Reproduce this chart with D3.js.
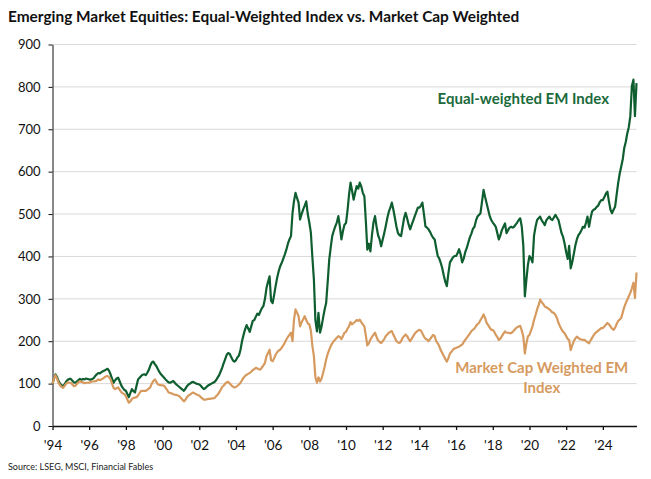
<!DOCTYPE html>
<html>
<head>
<meta charset="utf-8">
<script src="https://cdn.jsdelivr.net/npm/d3@7"></script>
<style>
  body { margin: 0; background: #fff; }
  svg { font-family: Lato, 'Open Sans', sans-serif; }
</style>
</head>
<body>
<script>
//monthly index levels (Jan 1994 = 100)
const startYear = 1994

const equalWeighted = [
  100, 112, 122, 116, 106, 100, 96, 94, 99, 105, 109, 111,   // 1994
  111, 107, 103, 102, 105, 108, 111, 109, 111, 110, 112, 111, // 1995
  110, 109, 111, 113, 118, 122, 125, 124, 127, 129, 131, 133, // 1996
  135, 130, 122, 112, 102, 108, 112, 114, 105, 96, 90, 85,    // 1997
  83, 75, 68, 78, 87, 82, 79, 95, 110, 114, 118, 121,         // 1998
  122, 120, 125, 132, 142, 150, 152, 146, 141, 134, 127, 122, // 1999
  118, 114, 110, 106, 103, 102, 104, 106, 102, 98, 95, 92,    // 2000
  89, 86, 83, 88, 94, 98, 100, 103, 104, 102, 100, 99,        // 2001
  98, 95, 91, 87, 89, 93, 96, 98, 100, 102, 104, 108,         // 2002
  114, 120, 128, 137, 148, 158, 168, 172, 170, 162, 155, 152, // 2003
  155, 162, 166, 180, 200, 215, 228, 238, 230, 222, 235, 248, // 2004
  250, 258, 265, 262, 270, 278, 283, 300, 326, 340, 353, 295, // 2005
  290, 310, 330, 350, 365, 377, 385, 395, 405, 416, 430, 440, // 2006
  448, 503, 530, 550, 538, 527, 487, 500, 511, 520, 530, 500, // 2007
  480, 456, 400, 346, 250, 223, 267, 220, 235, 255, 275, 290, // 2008
  340, 393, 420, 448, 460, 471, 480, 495, 470, 440, 460, 475, // 2009
  479, 510, 545, 574, 555, 534, 550, 566, 560, 574, 565, 550, // 2010
  542, 480, 416, 430, 412, 450, 480, 495, 470, 450, 440, 424, // 2011
  440, 455, 471, 490, 505, 515, 527, 510, 490, 470, 455, 450, // 2012
  448, 470, 490, 503, 490, 475, 464, 475, 485, 495, 505, 515, // 2013
  515, 520, 527, 500, 471, 468, 464, 458, 450, 444, 440, 420, // 2014
  401, 395, 385, 372, 355, 340, 330, 360, 386, 392, 398, 401, // 2015
  401, 408, 417, 405, 386, 395, 410, 420, 433, 445, 454, 465, // 2016
  470, 485, 494, 498, 502, 530, 557, 540, 525, 510, 495, 486, // 2017
  480, 475, 470, 455, 440, 450, 462, 470, 478, 455, 462, 468, // 2018
  470, 468, 470, 475, 480, 486, 490, 470, 425, 306, 345, 380, // 2019
  401, 395, 386, 449, 470, 486, 490, 494, 485, 480, 474, 485, // 2020
  490, 494, 488, 486, 492, 498, 492, 486, 470, 455, 446, 430, // 2021
  410, 394, 425, 372, 386, 405, 425, 440, 450, 455, 462, 470, // 2022
  468, 480, 494, 470, 490, 506, 510, 512, 517, 520, 528, 533, // 2023
  533, 540, 548, 553, 530, 510, 502, 510, 517, 545, 573, 595, // 2024
  612, 630, 655, 670, 690, 705, 731, 802, 817, 731, 809       // 2025
]

const capWeighted = [
  100, 112, 120, 112, 102, 96, 92, 90, 95, 100, 103, 102,     // 1994
  102, 98, 94, 95, 99, 103, 106, 104, 103, 101, 102, 102,     // 1995
  102, 104, 105, 105, 106, 107, 110, 108, 110, 112, 115, 117, // 1996
  118, 115, 110, 100, 90, 87, 89, 91, 85, 80, 77, 75,         // 1997
  70, 62, 55, 58, 64, 66, 67, 68, 72, 78, 83, 83,             // 1998
  83, 83, 85, 88, 91, 100, 106, 110, 104, 98, 97, 96,         // 1999
  96, 95, 90, 85, 79, 78, 77, 75, 74, 73, 72, 70,             // 2000
  66, 62, 58, 62, 68, 72, 74, 77, 79, 77, 75, 73,             // 2001
  72, 68, 65, 62, 62, 63, 64, 64, 65, 65, 66, 70,             // 2002
  74, 79, 85, 92, 95, 100, 103, 104, 100, 96, 93, 91,         // 2003
  92, 95, 98, 102, 108, 114, 118, 121, 123, 125, 128, 132,    // 2004
  134, 137, 136, 134, 133, 138, 143, 149, 165, 172, 180, 155, // 2005
  153, 160, 168, 174, 178, 180, 185, 190, 197, 204, 210, 215, // 2006
  220, 200, 250, 275, 268, 259, 235, 245, 252, 259, 250, 242, // 2007
  240, 225, 190, 165, 115, 102, 115, 105, 112, 125, 140, 157, // 2008
  170, 180, 188, 195, 200, 204, 208, 212, 210, 205, 212, 220, // 2009
  222, 230, 235, 245, 240, 243, 246, 250, 248, 251, 245, 240, // 2010
  235, 212, 190, 195, 204, 210, 215, 220, 210, 202, 198, 196, // 2011
  200, 205, 212, 216, 220, 222, 224, 215, 208, 200, 197, 196, // 2012
  200, 208, 212, 216, 212, 205, 200, 206, 212, 218, 222, 225, // 2013
  227, 225, 218, 211, 206, 204, 200, 205, 210, 215, 212, 200, // 2014
  195, 188, 179, 172, 165, 158, 152, 160, 171, 175, 180, 183, // 2015
  184, 186, 187, 190, 192, 198, 203, 208, 213, 218, 224, 227, // 2016
  230, 236, 240, 243, 250, 256, 263, 255, 243, 238, 232, 227, // 2017
  227, 222, 215, 210, 203, 206, 212, 218, 223, 220, 220, 219, // 2018
  219, 222, 226, 230, 233, 235, 236, 225, 211, 171, 195, 211, // 2019
  215, 225, 235, 250, 262, 275, 285, 298, 292, 288, 282, 280, // 2020
  278, 275, 272, 268, 267, 262, 255, 243, 235, 228, 222, 219, // 2021
  212, 205, 203, 179, 190, 200, 206, 211, 208, 205, 204, 203, // 2022
  203, 200, 198, 195, 202, 208, 214, 219, 222, 225, 228, 231, // 2023
  231, 235, 239, 243, 240, 235, 230, 227, 232, 240, 248, 251, // 2024
  255, 268, 280, 290, 298, 306, 314, 325, 338, 302, 362       // 2025
]

//axis ticks
const yTicks = [0, 100, 200, 300, 400, 500, 600, 700, 800, 900]
const xTickYears = [1994, 1996, 1998, 2000, 2002, 2004, 2006, 2008, 2010, 2012, 2014, 2016, 2018, 2020, 2022, 2024]
const xTickLabels = ["'94", "'96", "'98", "'00", "'02", "'04", "'06", "'08", "'10", "'12", "'14", "'16", "'18", "'20", "'22", "'24"]

const titleText = 'Emerging Market Equities: Equal-Weighted Index vs. Market Cap Weighted'
const sourceText = 'Source: LSEG, MSCI, Financial Fables'

const green = '#0f5e30'
const orange = '#d69a5f'

render()

function render() {
  const width = 651
  const height = 479

  const svg = d3.select('body')
    .append('svg')
    .attr('width', width)
    .attr('height', height)

  const margin = { top: 44.5, bottom: 53, left: 52.5, right: 14.5 }
  const innerWidth = width - margin.left - margin.right
  const innerHeight = height - margin.top - margin.bottom

  //turn month index into a date
  const toDate = i => new Date(startYear, i, 1)
  const ewData = equalWeighted.map((v, i) => ({ date: toDate(i), value: v }))
  const cwData = capWeighted.map((v, i) => ({ date: toDate(i), value: v }))

  const xScale = d3.scaleTime()
    .domain([toDate(0), toDate(equalWeighted.length - 1)])
    .range([0, innerWidth])

  const yScale = d3.scaleLinear()
    .domain([0, 900])
    .range([innerHeight, 0])

  const g = svg.append('g')
    .attr('transform', `translate(${margin.left},${margin.top})`)

  //title
  svg.append('text')
    .text(titleText)
      .attr('x', 8)
      .attr('y', 22)
      .attr('font-size', 15.4)
      .attr('font-weight', 'bold')
      .attr('fill', '#111')

  //gridlines
  g.selectAll('.grid')
    .data(yTicks.filter(d => d > 0))
    .enter()
    .append('line')
      .attr('class', 'grid')
      .attr('x1', 0)
      .attr('x2', innerWidth)
      .attr('y1', d => yScale(d))
      .attr('y2', d => yScale(d))
      .attr('stroke', '#d9d9d9')
      .attr('stroke-width', 1)

  //y axis
  const yAxis = d3.axisLeft(yScale)
    .tickValues(yTicks)
    .tickSize(4)
    .tickSizeOuter(0)
    .tickPadding(8)

  g.append('g').call(yAxis)
    .call(a => a.selectAll('text').attr('font-size', 13).attr('fill', '#111').attr('font-family', 'Lato, sans-serif'))
    .call(a => a.selectAll('line, path').attr('stroke', '#111'))

  //x axis
  const xAxis = d3.axisBottom(xScale)
    .tickValues(xTickYears.map(y => new Date(y, 0, 1)))
    .tickFormat((d, i) => xTickLabels[i])
    .tickSize(4)
    .tickSizeOuter(0)
    .tickPadding(10)

  g.append('g').call(xAxis)
      .attr('transform', `translate(0,${innerHeight})`)
    .call(a => a.selectAll('text').attr('font-size', 13.5).attr('fill', '#111').attr('font-family', 'Lato, sans-serif'))
    .call(a => a.selectAll('line, path').attr('stroke', '#111').attr('stroke-width', 1.3))

  //lines
  const line = d3.line()
    .x(d => xScale(d.date))
    .y(d => yScale(d.value))

  g.append('path')
    .datum(ewData)
      .attr('fill', 'none')
      .attr('stroke', green)
      .attr('stroke-width', 2.2)
      .attr('stroke-linejoin', 'round')
      .attr('d', line)

  g.append('path')
    .datum(cwData)
      .attr('fill', 'none')
      .attr('stroke', orange)
      .attr('stroke-width', 2.2)
      .attr('stroke-linejoin', 'round')
      .attr('d', line)

  //series labels, anchored in data coordinates
  g.append('text')
    .text('Equal-weighted EM Index')
      .attr('x', xScale(new Date(2019, 8, 1)))
      .attr('y', yScale(760))
      .attr('text-anchor', 'middle')
      .attr('font-size', 15)
      .attr('font-weight', 'bold')
      .attr('fill', '#1b6a3c')

  const cwLabel = g.append('text')
      .attr('text-anchor', 'middle')
      .attr('font-size', 15)
      .attr('font-weight', 'bold')
      .attr('fill', orange)
  cwLabel.append('tspan')
    .text('Market Cap Weighted EM')
      .attr('x', xScale(new Date(2020, 8, 1)))
      .attr('y', yScale(125))
  cwLabel.append('tspan')
    .text('Index')
      .attr('x', xScale(new Date(2020, 8, 1)))
      .attr('y', yScale(78))

  //source note
  svg.append('text')
    .text(sourceText)
      .attr('x', 8)
      .attr('y', 470)
      .attr('font-size', 9)
      .attr('fill', '#222')
}
</script>
</body>
</html>
